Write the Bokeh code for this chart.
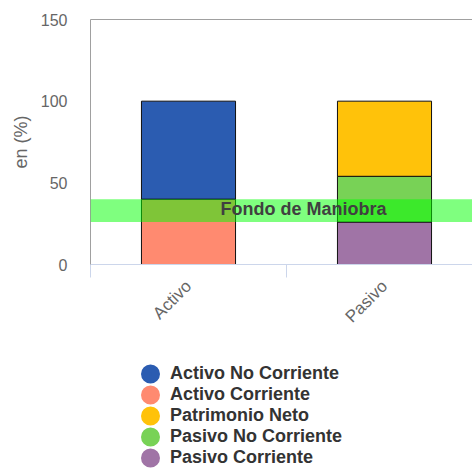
from bokeh.plotting import figure
from bokeh.layouts import column
from bokeh.models import (Range1d, FixedTicker, LinearAxis, Legend, LegendItem,
                          BoxAnnotation, Label, ColumnDataSource, CDSView, IndexFilter)
from bokeh.embed import file_html
from bokeh.resources import INLINE
import math

categories = ["Activo", "Pasivo"]
series_names = ["Activo No Corriente", "Activo Corriente", "Patrimonio Neto",
                "Pasivo No Corriente", "Pasivo Corriente"]
series_colors = ["#2B5CB1", "#FF8A70", "#FFC20A", "#78D256", "#A074A6"]
# values per category (Activo, Pasivo)
activo_no_corriente = [60, 0]
activo_corriente = [40, 0]
patrimonio_neto = [0, 46]
pasivo_no_corriente = [0, 28]
pasivo_corriente = [0, 26]
y_ticks = [0, 50, 100, 150]
band_label = "Fondo de Maniobra"

xs = [i + 0.5 for i in range(len(categories))]
src = ColumnDataSource(dict(
    x=xs,
    ac=activo_corriente, pc=pasivo_corriente,
    anc=activo_no_corriente, pnc=pasivo_no_corriente, pn=patrimonio_neto,
))

p = figure(width=472, height=345, output_backend="svg", toolbar_location=None,
           x_range=Range1d(0, 382 / 196), y_range=Range1d(0, 150),
           min_border_left=90, min_border_right=0, min_border_top=19,
           min_border_bottom=81, x_axis_type=None, y_axis_type=None)
p.outline_line_color = None
p.background_fill_color = "white"
p.border_fill_color = "white"

# stacked bars (bottom to top), one stack per category
p.vbar_stack(["ac", "anc"], x="x", width=0.48, source=src,
             view=CDSView(filter=IndexFilter([0])),
             color=[series_colors[1], series_colors[0]],
             line_color="#111111", line_width=1)
p.vbar_stack(["pc", "pnc", "pn"], x="x", width=0.48, source=src,
             view=CDSView(filter=IndexFilter([1])),
             color=[series_colors[4], series_colors[3], series_colors[2]],
             line_color="#111111", line_width=1)

# y axis
yax = LinearAxis(ticker=FixedTicker(ticks=y_ticks))
yax.axis_line_color = "#a0a0a0"
yax.axis_line_width = 1
yax.major_tick_line_color = None
yax.minor_tick_line_color = None
yax.major_label_text_font = "Liberation Sans"
yax.major_label_text_font_size = "16px"
yax.major_label_text_color = "#666666"
yax.major_label_standoff = 17
yax.axis_label = "en (%)"
yax.axis_label_text_font = "Liberation Sans"
yax.axis_label_text_font_size = "18px"
yax.axis_label_text_font_style = "normal"
yax.axis_label_text_color = "#666666"
yax.axis_label_standoff = 7
p.add_layout(yax, "left")

# top border line
tax = LinearAxis(ticker=FixedTicker(ticks=[]))
tax.axis_line_color = "#a0a0a0"
tax.major_tick_line_color = None
tax.minor_tick_line_color = None
tax.major_label_text_font_size = "0px"
p.add_layout(tax, "above")

# x axis
xax = LinearAxis(ticker=FixedTicker(ticks=xs, minor_ticks=list(range(len(categories) + 1))))
xax.major_label_overrides = {x: c for x, c in zip(xs, categories)}
xax.axis_line_color = "#ccd6eb"
xax.major_tick_line_color = None
xax.minor_tick_line_color = "#ccd6eb"
xax.minor_tick_in = 0
xax.minor_tick_out = 13
xax.major_tick_in = 0
xax.major_tick_out = 0
xax.major_label_orientation = math.pi / 4
xax.major_label_text_font = "Liberation Sans"
xax.major_label_text_font_size = "17px"
xax.major_label_text_color = "#666666"
xax.major_label_standoff = 6
p.add_layout(xax, "below")

# grid
p.ygrid.ticker = FixedTicker(ticks=y_ticks)
p.ygrid.grid_line_color = "#e6e6e6"
p.xgrid.grid_line_color = None

# working capital band
band_bottom = pasivo_corriente[1]
band_top = activo_corriente[0]
band = BoxAnnotation(bottom=band_bottom, top=band_top, fill_color="#00ff00",
                     fill_alpha=0.5, line_color=None)
p.add_layout(band)
lbl = Label(x=1.087, y=(band_bottom + band_top) / 2, text=band_label,
            text_align="center", text_baseline="middle",
            text_font="Liberation Sans", text_font_size="18px",
            text_font_style="bold", text_color="#404040", y_offset=2)
p.add_layout(lbl)

# legend figure below the chart (legend proxies carry no visible points)
lf = figure(width=472, height=123, output_backend="svg", toolbar_location=None,
            x_range=Range1d(0, 1), y_range=Range1d(0, 1),
            min_border=0, x_axis_type=None, y_axis_type=None)
lf.outline_line_color = None
lf.xgrid.visible = False
lf.ygrid.visible = False
items = []
for name, col in zip(series_names, series_colors):
    r = lf.scatter(x=[float("nan")], y=[float("nan")], marker="circle", size=8,
                   fill_color=col, line_color=col, line_width=11)
    items.append(LegendItem(label=name, renderers=[r]))
leg = Legend(items=items, location=(50, 0), orientation="vertical")
leg.label_text_font = "Liberation Sans"
leg.label_text_font_size = "18px"
leg.label_text_font_style = "bold"
leg.label_text_color = "#333333"
leg.glyph_width = 20
leg.glyph_height = 21
leg.label_height = 21
leg.spacing = 0
leg.padding = 0
leg.margin = 0
leg.label_standoff = 10
leg.border_line_color = None
leg.background_fill_alpha = 0
lf.add_layout(leg, "center")

layout = column(p, lf, spacing=0)
open("out.html", "w").write(file_html(layout, INLINE))
